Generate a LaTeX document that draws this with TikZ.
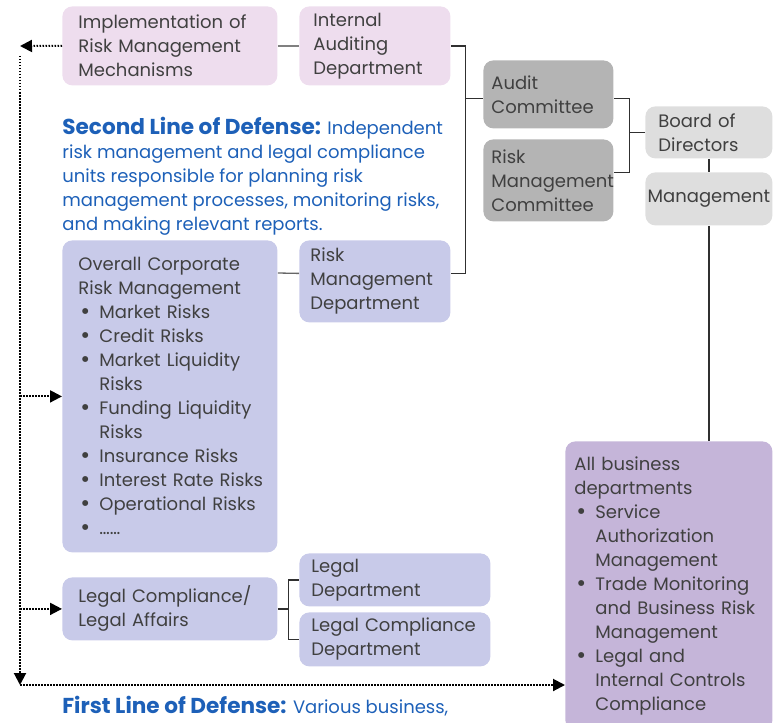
\documentclass[tikz,border=0pt]{standalone}
\usepackage{fontspec}
\setmainfont{Poppins}
\usetikzlibrary{arrows.meta}
\usetikzlibrary{positioning}
\definecolor{textgray}{HTML}{404040}
\definecolor{pinkfill}{HTML}{EEDDEE}
\definecolor{darkgrayfill}{HTML}{B4B4B4}
\definecolor{lightgrayfill}{HTML}{DEDEDE}
\definecolor{lavenderfill}{HTML}{C8CAE9}
\definecolor{purplefill}{HTML}{C5B5D9}
\definecolor{defenseblue}{HTML}{1D60B8}
\definecolor{linegray}{HTML}{303030}
\newcommand{\boxfont}{\fontsize{9}{12}\selectfont\hyphenpenalty=10000}
\newcommand{\riskitem}{\par\noindent\hangindent=10.5pt\hangafter=1\hspace*{1pt}%
  \makebox[9.5pt][l]{\raisebox{-0.4pt}{\fontsize{12}{12}\selectfont\textbullet}}}
\tikzset{
    unit/.style={
           rectangle,
           rounded corners=5pt,
           anchor=north west,
           align=left,
           inner ysep=0pt,
           font=\boxfont,
           text=textgray,
           },
    link/.style={draw=linegray, line width=0.65pt},
    dotlink/.style={draw=black, line width=1pt, dash pattern=on 0.75pt off 0.75pt,
           -{Triangle[length=6pt,width=6pt]}},
}

\begin{document}
\begin{tikzpicture}[x=0.5pt,y=-0.5pt]
 \useasboundingbox (0,0) rectangle (780,722);
 \clip (0,0) rectangle (780,722);

 % top row: pink units
 \node[unit, fill=pinkfill, inner xsep=8pt, text width=91.5pt,
 minimum height=39.5pt] (Impl) at (62,6)
 {Implementation of\\Risk Management\\Mechanisms};
 \node[unit, fill=pinkfill, inner xsep=7pt, text width=61.5pt,
 minimum height=39.5pt] (IAD) at (299,6)
 {Internal\\Auditing\\Department};

 % committees
 \node[unit, fill=darkgrayfill, inner xsep=4pt, text width=57pt,
 minimum height=34pt] (AC) at (483,60)
 {Audit\\Committee};
 \node[unit, fill=darkgrayfill, inner xsep=4pt, text width=57pt,
 minimum height=41pt] (RMC) at (483,139)
 {Risk\\Management\\Committee};

 % board and management
 \node[unit, fill=lightgrayfill, inner xsep=6.5pt, text width=50.5pt,
 minimum height=26pt] (BoD) at (645,106)
 {Board of\\Directors};
 \node[unit, fill=lightgrayfill, inner xsep=0pt, text width=63.5pt, align=center,
 minimum height=26.5pt] (Mgmt) at (645,172)
 {Management};

 % second line of defense
 \node[anchor=north west, align=left, inner sep=0pt, text=defenseblue,
 font=\boxfont] (Second) at (62,117)
 {{\fontsize{10.8}{12}\selectfont\bfseries Second Line of Defense:} Independent\\
 risk management and legal compliance\\
 units responsible for planning risk\\
 management processes, monitoring risks,\\
 and making relevant reports.};

 \node[unit, fill=lavenderfill, inner xsep=8pt, text width=91.5pt,
 minimum height=156pt] (Overall) at (62,240)
 {Overall Corporate\newline Risk Management
 \riskitem Market Risks
 \riskitem Credit Risks
 \riskitem Market Liquidity\newline Risks
 \riskitem Funding Liquidity\newline Risks
 \riskitem Insurance Risks
 \riskitem \mbox{Interest Rate Risks}
 \riskitem \mbox{Operational Risks}
 \riskitem ……\par};
 \node[unit, fill=lavenderfill, inner xsep=5.5pt, text width=64.5pt,
 minimum height=41pt] (RMD) at (299,240)
 {Risk\\Management\\Department};

 % legal units
 \node[unit, fill=lavenderfill, inner xsep=8pt, text width=91.5pt,
 minimum height=31.5pt] (Legal) at (62,577)
 {Legal Compliance/\\Legal Affairs};
 \node[unit, fill=lavenderfill, inner xsep=6pt, text width=83.5pt,
 minimum height=26.5pt] (LD) at (299,553)
 {Legal\\Department};
 \node[unit, fill=lavenderfill, inner xsep=6pt, text width=83.5pt,
 minimum height=27pt] (LCD) at (299,612)
 {\mbox{Legal Compliance}\\Department};

 % first line of defense
 \node[unit, fill=purplefill, inner xsep=4.5pt, text width=94.5pt,
 minimum height=144.5pt] (Business) at (565,441)
 {All business\newline departments
 \riskitem Service\newline Authorization\newline Management
 \riskitem \mbox{Trade Monitoring}\newline \mbox{and Business Risk}\newline Management
 \riskitem Legal and\newline \mbox{Internal Controls}\newline Compliance\par};
 \node[anchor=north west, align=left, inner sep=0pt, text=defenseblue,
 font=\boxfont] (First) at (62,696)
 {{\fontsize{10.8}{12}\selectfont\bfseries First Line of Defense:} Various business,};

 % solid connectors
 \draw[link, draw=gray] (Impl.east) -- (IAD.west);
 \draw[link, draw=gray!80!black] (Overall.east |- 0,273) -- ([yshift=4pt]RMD.west);
 \draw[link] (IAD.east) -- ++(15,0) |- ([yshift=4pt]RMD.east);
 \draw[link] ([yshift=-2pt]AC.west) -- ++(-18,0);
 \draw[link] ([yshift=-2pt]AC.east) -- ++(16,0) |- ([yshift=4pt]RMC.east);
 \draw[link] (BoD.west) -- ++(-16,0);
 \draw[link] (BoD.south) -- (Mgmt.north);
 \draw[link] (Mgmt.south) -- (Mgmt.south |- Business.north);
 \draw[link] (Legal.east) -- ++(11,0) |- (LD.west);
 \draw[link] (Legal.east) ++(11,0) |- (LCD.west);

 % dotted arrows
 \coordinate (LeftTop) at (20,46);
 \coordinate (LeftRail) at (20,56);
 \coordinate (LeftBottom) at (20,685);
 \draw[dotlink] (Impl.west) -- (LeftTop);
 \draw[dotlink] (LeftRail) -- (LeftBottom);
 \draw[dotlink] (LeftBottom) -- (Business.west |- LeftBottom);
 \draw[dotlink] (LeftTop |- Overall.west) -- (Overall.west);
 \draw[dotlink] (LeftTop |- Legal.west) -- (Legal.west);
\end{tikzpicture}
\end{document}
